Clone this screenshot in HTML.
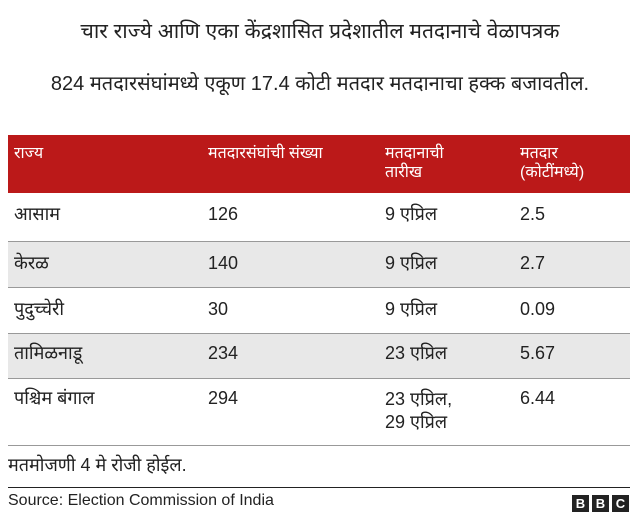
<!DOCTYPE html>
<html><head><meta charset="utf-8">
<style>
body{margin:0;width:640px;height:520px;background:#fff;font-family:"Liberation Sans","Noto Sans Devanagari","Lohit Devanagari",sans-serif;color:#222;position:relative;overflow:hidden}
.abs{position:absolute}
#title{left:0;width:640px;top:19px;text-align:center;font-size:21px}
#sub{left:0;width:640px;top:73px;text-align:center;font-size:20px}
#tbl{left:8px;top:135px;width:622px;border-collapse:collapse}
#tbl td{font-size:18px;vertical-align:top;padding:0;border-bottom:1px solid #999}
#tbl tr.h td{background:#bb1919;color:#fff;font-size:16px;height:58px;padding-top:9px;box-sizing:border-box;border-bottom:none;line-height:19px}
#tbl tr.g td{background:#e8e8e8}
.c1{padding-left:6px!important;width:194px}
.c2{width:177px}
.c3{width:135px}
#note{left:8px;top:455px;font-size:18px}
#rule{left:8px;top:487px;width:622px;height:1px;background:#222}
#src{left:8px;top:492px;font-size:16px}
.bbc{top:495px;width:17px;height:17px;background:#222;color:#fff;font-weight:bold;font-size:13px;text-align:center;line-height:17px}
</style></head><body>
<div class="abs" id="title">चार राज्ये आणि एका केंद्रशासित प्रदेशातील मतदानाचे वेळापत्रक</div>
<div class="abs" id="sub">824 मतदारसंघांमध्ये एकूण 17.4 कोटी मतदार मतदानाचा हक्क बजावतील.</div>
<table class="abs" id="tbl">
<tr class="h"><td class="c1">राज्य</td><td class="c2">मतदारसंघांची संख्या</td><td class="c3">मतदानाची<br>तारीख</td><td>मतदार<br>(कोटींमध्ये)</td></tr>
<tr style="height:48px"><td class="c1" style="padding-top:11px">आसाम</td><td style="padding-top:11px">126</td><td style="padding-top:11px">9 एप्रिल</td><td style="padding-top:11px">2.5</td></tr>
<tr class="g" style="height:46px"><td class="c1" style="padding-top:11px">केरळ</td><td style="padding-top:11px">140</td><td style="padding-top:11px">9 एप्रिल</td><td style="padding-top:11px">2.7</td></tr>
<tr style="height:46px"><td class="c1" style="padding-top:11px">पुदुच्चेरी</td><td style="padding-top:11px">30</td><td style="padding-top:11px">9 एप्रिल</td><td style="padding-top:11px">0.09</td></tr>
<tr class="g" style="height:45px"><td class="c1" style="padding-top:9px">तामिळनाडू</td><td style="padding-top:9px">234</td><td style="padding-top:9px">23 एप्रिल</td><td style="padding-top:9px">5.67</td></tr>
<tr style="height:67px"><td class="c1" style="padding-top:9px">पश्चिम बंगाल</td><td style="padding-top:9px">294</td><td style="padding-top:9px;line-height:23px">23 एप्रिल,<br>29 एप्रिल</td><td style="padding-top:9px">6.44</td></tr>
</table>
<div class="abs" id="note">मतमोजणी 4 मे रोजी होईल.</div>
<div class="abs" id="rule"></div>
<div class="abs" id="src">Source: Election Commission of India</div>
<div class="abs bbc" style="left:572px">B</div>
<div class="abs bbc" style="left:592px">B</div>
<div class="abs bbc" style="left:612px">C</div>
</body></html>
